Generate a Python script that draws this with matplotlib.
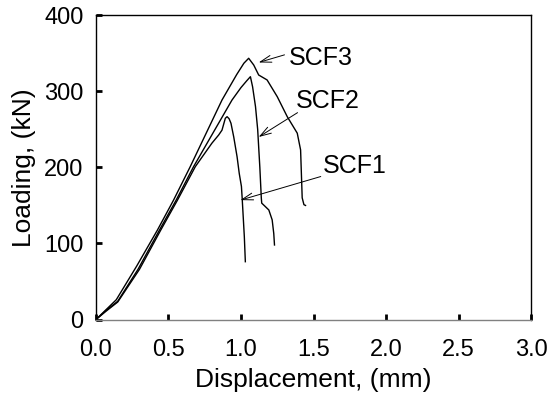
import matplotlib
matplotlib.use("Agg")
import matplotlib.pyplot as plt

plt.rcParams['font.family'] = ['Liberation Sans', 'DejaVu Sans']

# ---- data ----
scf3_x = [0, 0.07, 0.14, 0.28, 0.424, 0.535, 0.65, 0.869, 0.97, 1.02, 1.053,
          1.088, 1.122, 1.18, 1.25, 1.319, 1.388, 1.411, 1.418, 1.422, 1.434, 1.445]
scf3_y = [0, 13, 26, 70, 117.7, 157, 201, 288.6, 322, 337, 343.5,
          334.6, 321.5, 315, 293, 266.7, 245, 223, 183, 160, 151, 150]

scf2_x = [0, 0.07, 0.15, 0.29, 0.438, 0.553, 0.673, 0.80, 0.938, 1.0, 1.04, 1.065,
          1.08, 1.10, 1.115, 1.13, 1.14, 1.143, 1.165, 1.192, 1.215, 1.226, 1.231]
scf2_y = [0, 12, 24, 66, 117.7, 157, 201, 243, 288.6, 305, 314, 319.3,
          306, 280, 250, 200, 160, 153, 149, 144, 131, 113, 98]

scf1_x = [0, 0.07, 0.15, 0.30, 0.447, 0.562, 0.685, 0.80, 0.846, 0.869, 0.892, 0.904,
          0.918, 0.931, 0.95, 0.973, 0.988, 1.003, 1.008, 1.023, 1.030]
scf1_y = [0, 11, 23, 66, 117.7, 157, 201, 232, 242.6, 249, 264.6, 266.7,
          264, 258, 240, 214, 192, 175, 160, 109, 76]

labels = ["SCF3", "SCF2", "SCF1"]
label_pos = [(1.33, 344), (1.376, 287), (1.561, 202)]
arrow_tip = [(1.122, 338), (1.122, 240), (0.996, 157)]
arrow_tail = [(1.30, 348), (1.39, 272), (1.55, 188)]

fig = plt.figure(figsize=(5.5, 4.05), dpi=100)
ax = fig.add_axes([0.1745, 0.2111, 0.791, 0.7511])

for xs, ys in [(scf3_x, scf3_y), (scf2_x, scf2_y), (scf1_x, scf1_y)]:
    ax.plot(xs, ys, color='black', lw=1.0)

for lab, pos, tip, tail in zip(labels, label_pos, arrow_tip, arrow_tail):
    ax.text(pos[0], pos[1], lab, fontsize=18, va='center', ha='left')
    ax.annotate('', xy=tip, xytext=tail,
                arrowprops=dict(arrowstyle='->,head_length=0.8,head_width=0.25',
                                color='black', lw=0.7, shrinkA=0, shrinkB=0))

ax.set_xlim(0, 3.0)
ax.set_ylim(0, 400)
ax.set_xticks([0.0, 0.5, 1.0, 1.5, 2.0, 2.5, 3.0])
ax.set_xticklabels(['0.0', '0.5', '1.0', '1.5', '2.0', '2.5', '3.0'])
ax.set_yticks([0, 100, 200, 300, 400])
ax.tick_params(direction='in', length=4, width=2, labelsize=17)
ax.tick_params(axis='x', pad=14)
ax.tick_params(axis='y', pad=9)
for s in ax.spines.values():
    s.set_linewidth(1.0)
ax.spines['bottom'].set_color('#808080')

ax.set_xlabel('Displacement, (mm)', fontsize=19, labelpad=5)
ax.set_ylabel('Loading, (kN)', fontsize=19, labelpad=6)

fig.savefig('out.png', dpi=100)
